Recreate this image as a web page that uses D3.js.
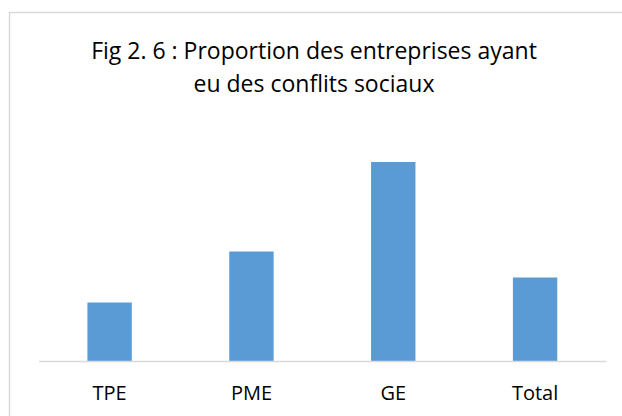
<!DOCTYPE html>
<html>
<head>
<meta charset="utf-8">
<script src="https://cdn.jsdelivr.net/npm/d3@7"></script>
<style>
  body { margin: 0; background: #fff; }
  text { font-family: "Open Sans", "Noto Sans", sans-serif; fill: #000; }
</style>
</head>
<body>
<div id="chart"></div>
<script>
// data (percent of firms, no axis shown)
const categories = ["TPE", "PME", "GE", "Total"];
const values = [11.7, 21.9, 39.8, 16.7];
const titleLines = ["Fig 2. 6 : Proportion des entreprises ayant", "eu des conflits sociaux"];

const width = 622, height = 416;
const plot = { left: 38.7, right: 606, top: 161, bottom: 361 };

const svg = d3.select("#chart")
  .append("svg")
  .attr("width", width)
  .attr("height", height);

// chart frame (cut off at right and bottom)
svg.append("rect")
  .attr("x", 9.5)
  .attr("y", 12.5)
  .attr("width", 640)
  .attr("height", 440)
  .attr("fill", "#fff")
  .attr("stroke", "#d9d9d9")
  .attr("stroke-width", 1.5);

// title
svg.append("g")
  .selectAll("text")
  .data(titleLines)
  .join("text")
  .attr("x", 314)
  .attr("y", (d, i) => 59 + i * 33)
  .attr("text-anchor", "middle")
  .style("font-size", "23px")
  .text(d => d);

const x = d3.scaleBand()
  .domain(categories)
  .range([plot.left, plot.right])
  .paddingInner(0.687)
  .paddingOuter(0.3435);

const y = d3.scaleLinear()
  .domain([0, 40])
  .range([plot.bottom, plot.top]);

svg.append("g")
  .selectAll("rect")
  .data(values)
  .join("rect")
  .attr("x", (d, i) => x(categories[i]))
  .attr("y", d => y(d))
  .attr("width", x.bandwidth())
  .attr("height", d => y(0) - y(d))
  .attr("fill", "#5b9bd5");

// category axis
const xAxis = svg.append("g")
  .attr("transform", `translate(0,${plot.bottom})`)
  .call(d3.axisBottom(x).tickSize(0).tickPadding(25));

xAxis.select(".domain")
  .attr("stroke", "#d9d9d9")
  .attr("stroke-width", 1.5);

xAxis.selectAll("text")
  .style("font-size", "20px")
  .style("font-family", "\"Open Sans\", \"Noto Sans\", sans-serif")
  .attr("fill", "#000");
</script>
</body>
</html>
